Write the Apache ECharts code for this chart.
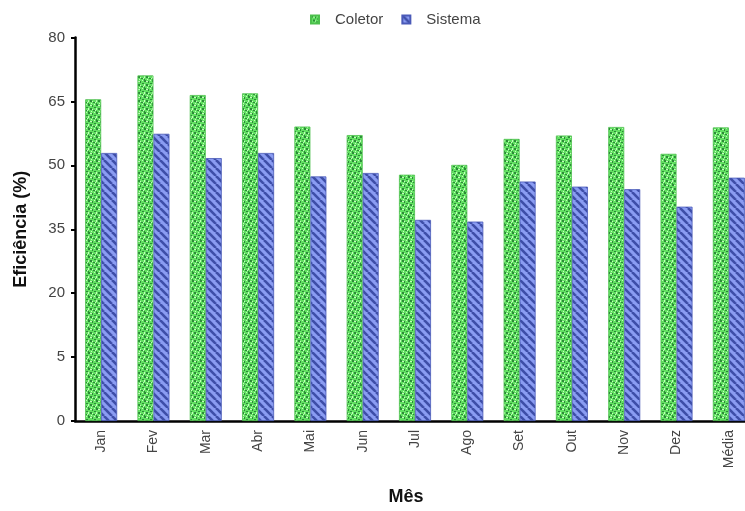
<!DOCTYPE html>
<html>
<head>
<meta charset="utf-8">
<script src="https://cdn.jsdelivr.net/npm/echarts@6/dist/echarts.min.js"></script>
<style>html,body{margin:0;padding:0;background:#fff;}#c{width:745px;height:511px;}</style>
</head>
<body>
<div id="c"></div>
<script>
const categories = ['Jan','Fev','Mar','Abr','Mai','Jun','Jul','Ago','Set','Out','Nov','Dez','Média'];
const coletor = [65.5, 71.1, 66.5, 66.9, 59.1, 57.1, 47.8, 50.1, 56.2, 57.0, 59.0, 52.7, 58.9];
const sistema = [52.9, 57.4, 51.7, 52.9, 47.4, 48.2, 37.2, 36.8, 46.2, 45.0, 44.4, 40.3, 47.1];
const yTickLabels = ['0','5','20','35','50','65','80'];
// the original axis bottom sits at -10 (labelled "0"); bars rise from that baseline
const axisBase = -10;

function dotPattern(){
  const n = 8;
  const c = document.createElement('canvas'); c.width = n; c.height = n;
  const g = c.getContext('2d');
  g.fillStyle = '#62e062'; g.fillRect(0,0,n,n);
  g.fillStyle = '#2c8a38';
  g.fillRect(0,0,2,2); g.fillRect(4,1,1,2); g.fillRect(6,3,2,1); g.fillRect(2,4,2,2); g.fillRect(5,6,2,1); g.fillRect(0,7,1,1);
  g.fillStyle = '#c4fcbc';
  g.fillRect(2,1,2,1); g.fillRect(6,0,1,1); g.fillRect(0,4,1,2); g.fillRect(4,5,1,1); g.fillRect(7,6,1,1); g.fillRect(3,7,1,1);
  return c;
}
function stripePattern(){
  const n = 8;
  const c = document.createElement('canvas'); c.width = n; c.height = n;
  const g = c.getContext('2d');
  g.fillStyle = '#8a9cf2'; g.fillRect(0,0,n,n);
  g.strokeStyle = '#3e4ea8'; g.lineWidth = 2.6;
  for (let k=-1;k<=1;k++){
    g.beginPath(); g.moveTo(k*n, 0); g.lineTo(k*n+n, n); g.stroke();
  }
  return c;
}
const greenFill = {image: dotPattern(), repeat: 'repeat'};
const blueFill = {image: stripePattern(), repeat: 'repeat'};

const chart = echarts.init(document.getElementById('c'));
chart.setOption({
  animation: false,
  legend: {
    top: 7, left: 305, itemWidth: 8, itemHeight: 8, itemGap: 18,
    textStyle: {fontFamily: 'Liberation Sans, Arial', fontSize: 15, color: '#444', padding: [0,0,0,11]},
    data: [{name:'Coletor', icon:'rect'}, {name:'Sistema', icon:'rect'}]
  },
  grid: {left: 75, top: 37.5, bottom: 90, right: -10, containLabel: false, outerBoundsMode: 'none'},
  xAxis: {
    type: 'category', data: categories,
    name: 'Mês', nameLocation: 'middle', nameGap: 67,
    nameTextStyle: {fontFamily: 'Liberation Sans, Arial', fontSize: 18, fontWeight: 'bold', color: '#111', padding: [0,18,0,0]},
    axisLine: {lineStyle: {color: '#000', width: 2.5}},
    axisTick: {lineStyle: {color: '#000', width: 2}, length: 5},
    axisLabel: {rotate: 90, margin: 9, fontFamily: 'Liberation Sans, Arial', fontSize: 14, color: '#444'}
  },
  yAxis: {
    type: 'value', min: 0, max: 90, interval: 15,
    name: 'Eficiência (%)', nameLocation: 'middle', nameGap: 45,
    nameTextStyle: {fontFamily: 'Liberation Sans, Arial', fontSize: 18, fontWeight: 'bold', color: '#111'},
    axisLine: {show: true, lineStyle: {color: '#000', width: 2.5}},
    axisTick: {show: true, lineStyle: {color: '#000', width: 2}, length: 4},
    splitLine: {show: false},
    axisLabel: {margin: 10, fontFamily: 'Liberation Sans, Arial', fontSize: 15, color: '#444',
      formatter: (v, i) => yTickLabels[i]}
  },
  series: [
    {name: 'Coletor', type: 'bar', barWidth: 16, barGap: '0%',
     data: coletor.map(v => v - axisBase),
     itemStyle: {color: greenFill, borderColor: '#4cc04c', borderWidth: 0.8}},
    {name: 'Sistema', type: 'bar', barWidth: 16, barGap: '0%',
     data: sistema.map(v => v - axisBase),
     itemStyle: {color: blueFill, borderColor: '#4a5ab8', borderWidth: 0.8}}
  ]
});
</script>
</body>
</html>
